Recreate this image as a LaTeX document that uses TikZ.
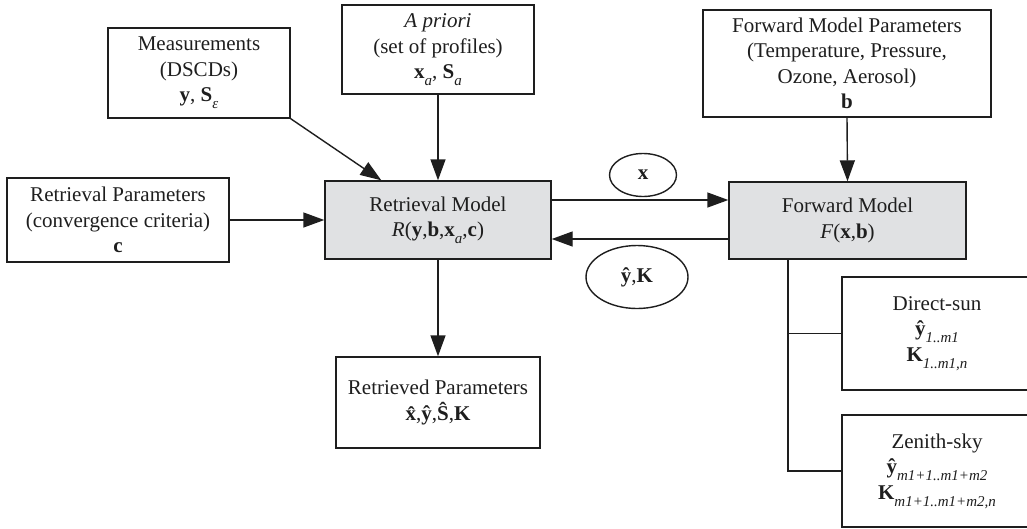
\documentclass[tikz,border=0pt]{standalone}
\usepackage{fontspec}
\setmainfont{Liberation Serif}
\usepackage{xcolor}
\definecolor{boxgray}{RGB}{224,225,227}
\definecolor{ink}{RGB}{30,30,30}
\usepackage{tikz}
\usetikzlibrary{arrows.meta}
\usetikzlibrary{shapes.geometric}
\newcommand{\lowsub}[1]{\raisebox{-0.7ex}{\fontsize{15}{15}\selectfont\mdseries\itshape #1}}

\begin{document}
\begin{tikzpicture}[x=1pt, y=-1pt, ink, line width=1.4pt,
			every node/.style={font=\fontsize{21}{25.5}\selectfont, text=ink, align=center, inner sep=0pt},
			box/.style={draw, rectangle},
			model/.style={box, fill=boxgray},
			oval/.style={draw, ellipse},
			arr/.style={-{Triangle[length=21pt,width=15pt]}},
			]
			\useasboundingbox (0,0) rectangle (1027,528);
			\node[box, minimum width=182pt, minimum height=90pt] (meas) at (199,73)
				{Measurements\\(DSCDs)\\\textbf{y}, \textbf{S}\lowsub{ε}};
			\node[box, minimum width=192pt, minimum height=89pt] (apri) at (438,49.5)
				{\textit{A priori}\\(set of profiles)\\\textbf{x}\lowsub{a}, \textbf{S}\lowsub{a}};
			\node[box, minimum width=288pt, minimum height=107pt] (fmp) at (847,63.5)
				{Forward Model Parameters\\(Temperature, Pressure,\\Ozone, Aerosol)\\\textbf{b}};
			\node[box, minimum width=222pt, minimum height=84pt] (rpar) at (118,220)
				{Retrieval Parameters\\(convergence criteria)\\\textbf{c}};
			\node[model, minimum width=226pt, minimum height=78pt] (rmod) at (438,220)
				{Retrieval Model\\\textit{R}(\textbf{y},\textbf{b},\textbf{x}\lowsub{a},\textbf{c})};
			\node[model, minimum width=237pt, minimum height=77pt] (fmod) at (847.5,220.5)
				{Forward Model\\\textit{F}(\textbf{x},\textbf{b})};
			\node[oval, minimum width=67pt, minimum height=43pt] (xval) at (643,175) {\textbf{x}};
			\node[oval, minimum width=102pt, minimum height=63pt] (ykval) at (637,277) {\textbf{ŷ},\textbf{K}};
			\node[box, minimum width=204pt, minimum height=91pt] (rout) at (438,402.5)
				{Retrieved Parameters\\\textbf{\^x},\textbf{ŷ},\textbf{Ŝ},\textbf{K}};
			\node[box, minimum width=190pt, minimum height=113pt] (dsun) at (937,333.5)
				{Direct-sun\\\textbf{ŷ}\lowsub{1..m1}\\\textbf{K}\lowsub{1..m1,n}};
			\node[box, minimum width=190pt, minimum height=112pt] (zsky) at (937,471)
				{Zenith-sky\\\textbf{ŷ}\lowsub{m1+1..m1+m2}\\\textbf{K}\lowsub{m1+1..m1+m2,n}};

			\draw[arr] (meas.south east) -- ([xshift=57pt]rmod.north west);
			\draw[arr] (apri.south) -- (rmod.north);
			\draw[arr] (rpar.east) -- (rmod.west);
			\draw[arr] (fmp.south) -- (fmod.north);
			\draw[arr] ([yshift=20pt]rmod.east) -- ([yshift=20pt]rmod.east -| fmod.west);
			\draw[arr] ([yshift=-19pt]rmod.east -| fmod.west) -- ([yshift=-19pt]rmod.east);
			\draw[arr] (rmod.south) -- (rout.north);
			\coordinate (trunk) at ([xshift=-59.5pt]fmod.south);
			\draw (trunk) |- (zsky.west);
			\draw (trunk |- dsun.west) -- (dsun.west);
		\end{tikzpicture}
\end{document}
